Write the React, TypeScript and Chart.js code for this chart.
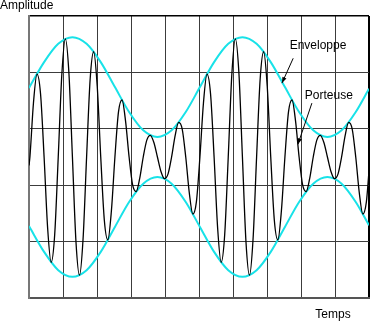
import { useEffect, useRef } from 'react';
import { Chart, registerables } from 'chart.js';

Chart.register(...registerables);

// Time axis: 0..10 (one unit per vertical grid cell); amplitude: -5..5 (two units per horizontal cell)
const xTickValues = [0, 1, 2, 3, 4, 5, 6, 7, 8, 9, 10];
const yTickValues = [-5, -3, -1, 1, 3, 5];

// Carrier (porteuse) samples
const carrierTimes = [
  0,
  0.027, 0.131, 0.235, 0.340, 0.444, 0.548, 0.652, 0.756, 0.860, 0.965, 1.069, 1.173,
  1.277, 1.381, 1.485, 1.590, 1.694, 1.798, 1.902, 2.006, 2.110, 2.215, 2.319, 2.423,
  2.527, 2.631, 2.735, 2.840, 2.944, 3.048, 3.152, 3.256, 3.360, 3.465, 3.569, 3.673,
  3.777, 3.881, 3.985, 4.090, 4.194, 4.298, 4.402, 4.506, 4.610, 4.715, 4.819, 4.923,
  5.027, 5.131, 5.235, 5.340, 5.444, 5.548, 5.652, 5.756, 5.860, 5.965, 6.069, 6.173,
  6.277, 6.381, 6.485, 6.590, 6.694, 6.798, 6.902, 7.006, 7.110, 7.215, 7.319, 7.423,
  7.527, 7.631, 7.735, 7.840, 7.944, 8.048, 8.152, 8.256, 8.360, 8.465, 8.569, 8.673,
  8.777, 8.881, 8.985, 9.090, 9.194, 9.298, 9.402, 9.506, 9.610, 9.715, 9.819, 9.923,
  10,
];
const carrierValues = [
  -0.3,
  0, 1.917, 2.938, 2.232, 0, -2.515, -3.732, -2.746, 0, 2.909, 4.19, 2.994,
  0, -2.994, -4.19, -2.909, 0, 2.746, 3.732, 2.515, 0, -2.232, -2.938, -1.917,
  0, 1.59, 2.022, 1.275, 0, -0.991, -1.228, -0.761, 0, 0.597, 0.77, 0.513,
  0, -0.513, -0.77, -0.597, 0, 0.761, 1.228, 0.991, 0, -1.275, -2.022, -1.59,
  0, 1.917, 2.938, 2.232, 0, -2.515, -3.732, -2.746, 0, 2.909, 4.19, 2.994,
  0, -2.994, -4.19, -2.909, 0, 2.746, 3.732, 2.515, 0, -2.232, -2.938, -1.917,
  0, 1.59, 2.022, 1.275, 0, -0.991, -1.228, -0.761, 0, 0.597, 0.77, 0.513,
  0, -0.513, -0.77, -0.597, 0, 0.761, 1.228, 0.991, 0, -1.275, -2.022, -1.59,
  -0.5,
];

// Envelope (enveloppe) samples
const envelopeTimes = [
  0, 0.444, 0.860, 1.277, 1.694, 2.110, 2.527, 2.944, 3.360, 3.777, 4.194, 4.610,
  5.027, 5.444, 5.860, 6.277, 6.694, 7.110, 7.527, 7.944, 8.360, 8.777, 9.194, 9.610, 10,
];
const upperEnvelope = [
  2.45, 3.365, 4.013, 4.25, 4.013, 3.365, 2.48, 1.595, 0.947, 0.71, 0.947, 1.595,
  2.48, 3.365, 4.013, 4.25, 4.013, 3.365, 2.48, 1.595, 0.947, 0.71, 0.947, 1.595, 2.42,
];
const lowerEnvelope = [
  -2.45, -3.365, -4.013, -4.25, -4.013, -3.365, -2.48, -1.595, -0.947, -0.71, -0.947, -1.595,
  -2.48, -3.365, -4.013, -4.25, -4.013, -3.365, -2.48, -1.595, -0.947, -0.71, -0.947, -1.595, -2.42,
];

const yTitle = 'Amplitude';
const xTitle = 'Temps';
const envelopeLabel = 'Enveloppe';
const carrierLabel = 'Porteuse';

const FONT = "12px 'Liberation Sans', Arial, Helvetica, sans-serif";
const CYAN = '#18e2e8';

function drawArrow(ctx: CanvasRenderingContext2D, x1: number, y1: number, x2: number, y2: number) {
  ctx.beginPath();
  ctx.moveTo(x1, y1);
  ctx.lineTo(x2, y2);
  ctx.stroke();
  const ang = Math.atan2(y2 - y1, x2 - x1);
  const len = 6;
  const half = 2.2;
  const bx = x2 - len * Math.cos(ang);
  const by = y2 - len * Math.sin(ang);
  ctx.beginPath();
  ctx.moveTo(x2, y2);
  ctx.lineTo(bx + half * Math.sin(ang), by - half * Math.cos(ang));
  ctx.lineTo(bx - half * Math.sin(ang), by + half * Math.cos(ang));
  ctx.closePath();
  ctx.fill();
}

const textPlugin = {
  id: 'texts',
  afterDraw(chart: any) {
    const ctx = chart.ctx as CanvasRenderingContext2D;
    const xs = chart.scales.x;
    const ys = chart.scales.y;
    const px = (v: number) => xs.getPixelForValue(v);
    const py = (v: number) => ys.getPixelForValue(v);
    ctx.save();
    ctx.fillStyle = '#000';
    ctx.strokeStyle = '#000';
    ctx.lineWidth = 1;
    ctx.font = FONT;
    ctx.textBaseline = 'alphabetic';
    ctx.textAlign = 'left';
    ctx.fillText(yTitle, 0, 9);
    ctx.textAlign = 'center';
    ctx.fillText(xTitle, 333, 318);
    ctx.textBaseline = 'middle';
    ctx.fillText(envelopeLabel, px(8.5), py(3.95));
    ctx.fillText(carrierLabel, px(8.82), py(2.16));
    drawArrow(ctx, px(7.77), py(3.5), px(7.44), py(2.62));
    drawArrow(ctx, px(8.32), py(1.91), px(7.91), py(0.45));
    ctx.restore();
  },
};

export default function App() {
  const ref = useRef<HTMLCanvasElement>(null);
  useEffect(() => {
    const canvas = ref.current;
    if (!canvas) return;
    const xMax = xTickValues[xTickValues.length - 1];
    const yMax = yTickValues[yTickValues.length - 1];
    const chart = new Chart(canvas, {
      type: 'line',
      data: {
        datasets: [
          {
            label: carrierLabel,
            data: carrierTimes.map((t, i) => ({ x: t, y: carrierValues[i] })),
            borderColor: '#000',
            borderWidth: 1.3,
            pointRadius: 0,
            cubicInterpolationMode: 'monotone',
            fill: false,
          },
          {
            label: envelopeLabel,
            data: envelopeTimes.map((t, i) => ({ x: t, y: upperEnvelope[i] })),
            borderColor: CYAN,
            borderWidth: 2,
            pointRadius: 0,
            cubicInterpolationMode: 'monotone',
            fill: false,
          },
          {
            label: envelopeLabel + ' (bas)',
            data: envelopeTimes.map((t, i) => ({ x: t, y: lowerEnvelope[i] })),
            borderColor: CYAN,
            borderWidth: 2,
            pointRadius: 0,
            cubicInterpolationMode: 'monotone',
            fill: false,
          },
        ],
      },
      options: {
        animation: false,
        responsive: false,
        devicePixelRatio: 1,
        layout: { padding: { left: 29, top: 16, right: 1, bottom: 23 } },
        plugins: { legend: { display: false }, tooltip: { enabled: false } },
        scales: {
          x: {
            type: 'linear',
            min: xTickValues[0],
            max: xMax,
            afterBuildTicks: (s: any) => {
              s.ticks = xTickValues.map((v) => ({ value: v }));
            },
            ticks: { display: false },
            grid: {
              color: (c: any) => (c.tick && c.tick.value === xMax ? '#000' : '#3c3c3c'),
              lineWidth: (c: any) => (c.tick && c.tick.value === xMax ? 2 : 1),
              drawTicks: false,
            },
            border: { display: true, color: '#555', width: 2 },
          },
          y: {
            type: 'linear',
            min: yTickValues[0],
            max: yMax,
            afterBuildTicks: (s: any) => {
              s.ticks = yTickValues.map((v) => ({ value: v }));
            },
            ticks: { display: false },
            grid: {
              color: (c: any) => (c.tick && c.tick.value === yMax ? '#000' : '#3c3c3c'),
              lineWidth: (c: any) => (c.tick && c.tick.value === yMax ? 1.5 : 1),
              drawTicks: false,
            },
            border: { display: true, color: '#777', width: 2 },
          },
        },
      },
      plugins: [textPlugin],
    } as any);
    return () => chart.destroy();
  }, []);
  return (
    <div style={{ position: 'absolute', left: 0, top: 0, width: 370, height: 321, background: '#fff' }}>
      <canvas ref={ref} width={370} height={321} style={{ display: 'block', width: 370, height: 321 }} />
    </div>
  );
}
